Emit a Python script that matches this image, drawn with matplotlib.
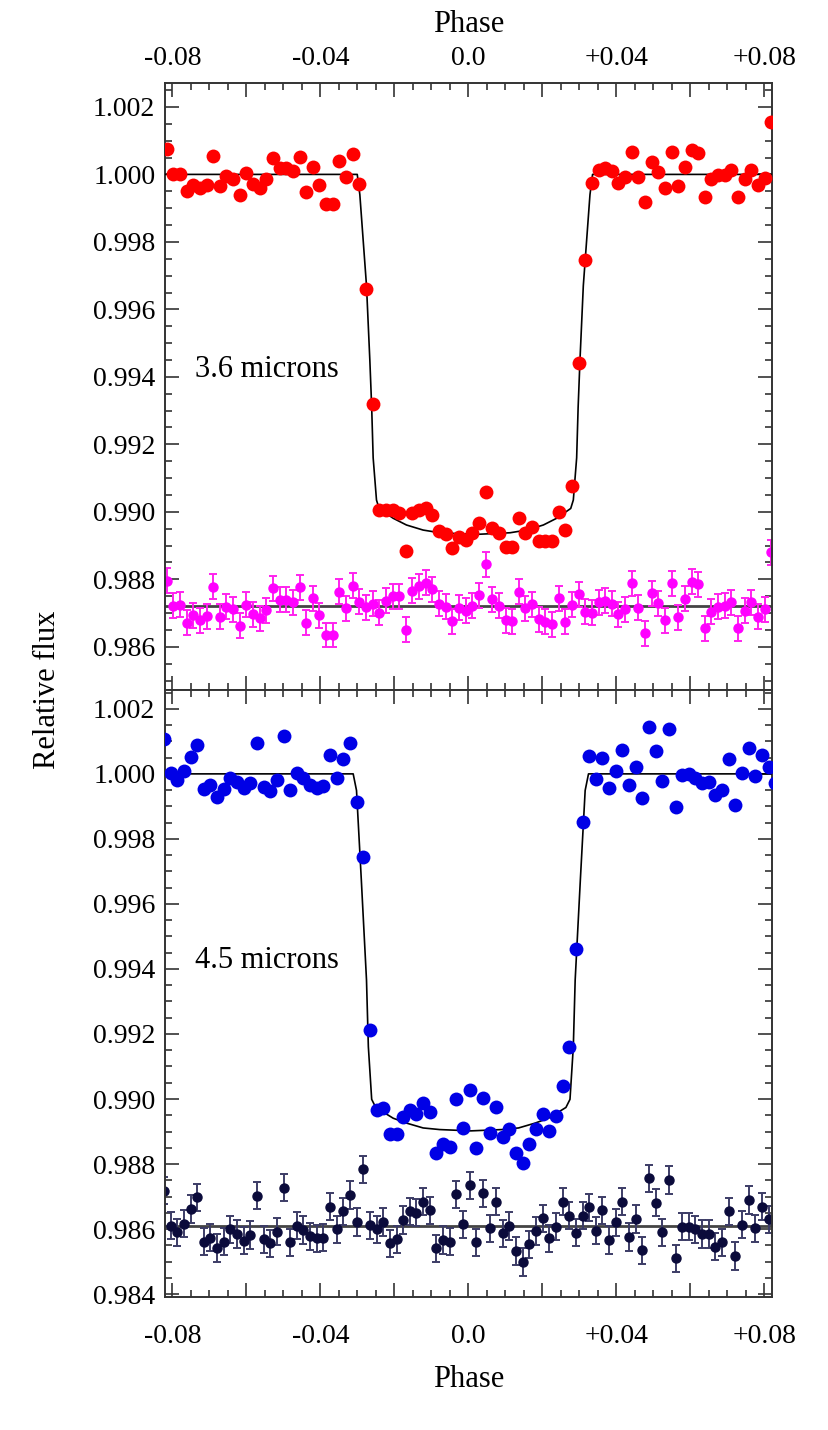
import numpy as np
import matplotlib
matplotlib.use('Agg')
import matplotlib.pyplot as plt
from matplotlib.ticker import MultipleLocator, FuncFormatter

plt.rcParams['font.family'] = ['Liberation Serif', 'DejaVu Serif']
plt.rcParams['font.size'] = 20

# --- 3.6 micron panel -------------------------------------------------
phase_start_36 = -0.08151
phase_step = 0.0017957

flux_36 = [1.00074, 1.0000, 1.0000, 0.99952, 0.99968, 0.99959, 0.99968, 1.00055, 0.99965, 0.99996,
           0.99986, 0.99939, 1.00003, 0.99973, 0.99960, 0.99986, 1.00050, 1.00018, 1.00018, 1.00011,
           1.00052, 0.99949, 1.00021, 0.99968, 0.99912, 0.99912, 1.00040, 0.99991, 1.00059, 0.99971,
           0.99661, 0.99319, 0.99005, 0.99004, 0.99005, 0.98996, 0.98885, 0.98997, 0.99005, 0.99010,
           0.98991, 0.98944, 0.98934, 0.98892, 0.98926, 0.98916, 0.98936, 0.98966, 0.99058, 0.98953,
           0.98936, 0.98895, 0.98895, 0.98983, 0.98936, 0.98956, 0.98914, 0.98914, 0.98914, 0.99000,
           0.98946, 0.99076, 0.99440, 0.99746, 0.99976, 1.00013, 1.00018, 1.00010, 0.99976, 0.99991,
           1.00067, 0.99993, 0.99919, 1.00037, 1.00008, 0.99959, 1.00067, 0.99965, 1.00021, 1.00072,
           1.00062, 0.99934, 0.99985, 0.99998, 0.99998, 1.00013, 0.99934, 0.99985, 1.00013, 0.99968,
           0.99988, 1.00156]

resid_36 = [0.98796, 0.98722, 0.98724, 0.98671, 0.98694, 0.98679, 0.98691, 0.98778, 0.98689, 0.98719,
            0.98711, 0.98662, 0.98724, 0.98697, 0.98684, 0.98709, 0.98773, 0.98739, 0.98739, 0.98732,
            0.98776, 0.98671, 0.98744, 0.98693, 0.98635, 0.98635, 0.98763, 0.98714, 0.98781, 0.98734,
            0.98717, 0.98727, 0.98701, 0.98737, 0.98750, 0.98750, 0.98650, 0.98766, 0.98780, 0.98790,
            0.98770, 0.98727, 0.98719, 0.98676, 0.98716, 0.98707, 0.98722, 0.98753, 0.98845, 0.98741,
            0.98722, 0.98679, 0.98676, 0.98763, 0.98714, 0.98726, 0.98682, 0.98674, 0.98667, 0.98744,
            0.98674, 0.98724, 0.98756, 0.98704, 0.98701, 0.98732, 0.98737, 0.98727, 0.98697, 0.98712,
            0.98788, 0.98716, 0.98640, 0.98759, 0.98729, 0.98679, 0.98788, 0.98687, 0.98743, 0.98793,
            0.98785, 0.98655, 0.98704, 0.98719, 0.98721, 0.98732, 0.98655, 0.98707, 0.98732, 0.98689,
            0.98711, 0.98880]
resid_err_36 = 0.00037
resid_level_36 = 0.98722

model_x_36 = [-0.0820, -0.0300, -0.0293, -0.0275, -0.0266, -0.0261, -0.0257, -0.0248, -0.0241,
              -0.0203, -0.0167, -0.0122, -0.0077, 0.0018, 0.0113, 0.0158, 0.0203, 0.0239,
              0.0277, 0.0284, 0.0293, 0.0297, 0.0302, 0.0311, 0.0329, 0.0336, 0.0820]
model_y_36 = [1.0000, 1.0000, 0.9994, 0.9967, 0.9945, 0.9931, 0.9916, 0.99035, 0.9901,
              0.98981, 0.98961, 0.98946, 0.98938, 0.98933, 0.98938, 0.98946, 0.98961, 0.98981,
              0.9901, 0.99035, 0.9916, 0.9931, 0.9945, 0.9967, 0.9994, 1.0000, 1.0000]

# --- 4.5 micron panel -------------------------------------------------
phase_start_45 = -0.08224

flux_45 = [1.00107, 1.00002, 0.99982, 1.00010, 1.00051, 1.00089, 0.99953, 0.99966, 0.99930, 0.99953,
           0.99987, 0.99976, 0.99956, 0.99971, 1.00094, 0.99959, 0.99946, 0.99982, 1.00117, 0.99951,
           1.00002, 0.99987, 0.99966, 0.99956, 0.99963, 1.00058, 0.99987, 1.00045, 1.00094, 0.99912,
           0.99744, 0.99212, 0.98966, 0.98971, 0.98892, 0.98892, 0.98946, 0.98966, 0.98954, 0.98987,
           0.98961, 0.98835, 0.98862, 0.98853, 0.99000, 0.98912, 0.99028, 0.98850, 0.99002, 0.98894,
           0.98976, 0.98884, 0.98908, 0.98835, 0.98804, 0.98862, 0.98907, 0.98954, 0.98903, 0.98949,
           0.99041, 0.99161, 0.99461, 0.99853, 1.00055, 0.99984, 1.00048, 0.99956, 1.00010, 1.00074,
           0.99966, 1.00021, 0.99925, 1.00144, 1.00069, 0.99979, 1.00138, 0.99899, 0.99997, 1.00000,
           0.99987, 0.99971, 0.99976, 0.99935, 0.99949, 1.00045, 0.99905, 1.00004, 1.00081, 0.99992,
           1.00058, 1.00021, 0.99971]

resid_45 = [0.98718, 0.98610, 0.98590, 0.98617, 0.98662, 0.98698, 0.98561, 0.98574, 0.98542, 0.98561,
            0.98599, 0.98585, 0.98564, 0.98582, 0.98703, 0.98568, 0.98556, 0.98592, 0.98727, 0.98559,
            0.98610, 0.98597, 0.98578, 0.98571, 0.98574, 0.98669, 0.98599, 0.98655, 0.98705, 0.98622,
            0.98784, 0.98612, 0.98599, 0.98622, 0.98556, 0.98568, 0.98628, 0.98655, 0.98650, 0.98684,
            0.98658, 0.98541, 0.98566, 0.98561, 0.98707, 0.98615, 0.98735, 0.98559, 0.98710, 0.98602,
            0.98684, 0.98587, 0.98609, 0.98533, 0.98499, 0.98553, 0.98594, 0.98633, 0.98571, 0.98607,
            0.98684, 0.98641, 0.98589, 0.98641, 0.98667, 0.98595, 0.98658, 0.98566, 0.98621, 0.98684,
            0.98576, 0.98631, 0.98535, 0.98756, 0.98681, 0.98590, 0.98751, 0.98510, 0.98607, 0.98607,
            0.98599, 0.98585, 0.98585, 0.98546, 0.98559, 0.98655, 0.98517, 0.98614, 0.98689, 0.98602,
            0.98669, 0.98630, 0.98620]
resid_err_45 = 0.00042
resid_level_45 = 0.98610

model_x_45 = [-0.0820, -0.0311, -0.0302, -0.0289, -0.0275, -0.0270, -0.0261, -0.0250, -0.0203,
              -0.0167, -0.0122, -0.0077, 0.0007, 0.0091, 0.0136, 0.0181, 0.0217, 0.0264,
              0.0275, 0.0284, 0.0289, 0.0303, 0.0316, 0.0325, 0.0820]
model_y_45 = [1.0000, 1.0000, 0.99949, 0.99674, 0.99366, 0.99161, 0.98999, 0.98974, 0.98941,
              0.98926, 0.98911, 0.98906, 0.98902, 0.98906, 0.98911, 0.98926, 0.98941, 0.98974,
              0.98999, 0.99161, 0.99366, 0.99674, 0.99949, 1.0000, 1.0000]

phase_36 = phase_start_36 + phase_step * np.arange(len(flux_36))
phase_45 = phase_start_45 + phase_step * np.arange(len(flux_45))

xticks_labelled = {-0.08: '-0.08', -0.04: '-0.04', 0.0: '0.0', 0.04: '+0.04', 0.08: '+0.08'}


def phase_fmt(v, pos):
    for k, s in xticks_labelled.items():
        if abs(v - k) < 1e-6:
            return s
    return ''


fig = plt.figure(figsize=(8.29, 14.30), dpi=100)
ax1 = fig.add_axes([0.1990, 0.51748, 0.7318, 0.42427])
ax2 = fig.add_axes([0.1990, 0.09322, 0.7318, 0.42427])

spine_col = '#333333'
label_size = 22

panels = [
    (ax1, phase_36, flux_36, resid_36, resid_err_36, resid_level_36, model_x_36, model_y_36,
     '#ff0000', '#ff00ff', '#ff22ee', (0.98472, 1.0027), '3.6 microns', 0.5164),
    (ax2, phase_45, flux_45, resid_45, resid_err_45, resid_level_45, model_x_45, model_y_45,
     '#0000e6', '#0b0b3b', '#3c3c66', (0.98392, 1.00258), '4.5 microns', 0.5413),
]

for (ax, ph, fl, rs, err, lev, mx, my, col, rcol, ecol, ylim, lab, ly) in panels:
    ax.axhline(lev, color='#444444', lw=2.0, zorder=1)
    ax.errorbar(ph, rs, yerr=err, fmt='o', ms=6.5, color=rcol, ecolor=ecol,
                elinewidth=1.4, capsize=3, capthick=1.4, zorder=2)
    ax.plot(mx, my, color='black', lw=1.2, zorder=3)
    ax.plot(ph, fl, 'o', ms=10, color=col, mec='none', zorder=4)
    ax.set_xlim(-0.08197, 0.0820)
    ax.set_ylim(*ylim)
    ax.text(0.0494, ly, lab, transform=ax.transAxes, fontsize=label_size, va='baseline')

    ax.xaxis.set_major_locator(MultipleLocator(0.02))
    ax.xaxis.set_minor_locator(MultipleLocator(0.005))
    ax.xaxis.set_major_formatter(FuncFormatter(phase_fmt))
    ax.yaxis.set_major_locator(MultipleLocator(0.002))
    ax.yaxis.set_minor_locator(MultipleLocator(0.0005))
    ax.yaxis.set_major_formatter(FuncFormatter(lambda v, p: '%.3f' % v))
    ax.tick_params(which='both', direction='in', top=True, right=True, color=spine_col,
                   width=1.2, labelsize=20)
    ax.tick_params(which='major', length=10)
    ax.tick_params(which='minor', length=5)
    ax.tick_params(axis='y', pad=7)
    for s in ax.spines.values():
        s.set_color(spine_col)
        s.set_linewidth(1.4)

ax1.tick_params(axis='x', labelbottom=False, labeltop=True, pad=9)
ax2.tick_params(axis='x', labelbottom=True, labeltop=False, pad=20)

fig.text(0.5649, 1 - 32 / 1430, 'Phase', ha='center', va='baseline', fontsize=label_size)
fig.text(0.5649, 1 - 1386.7 / 1430, 'Phase', ha='center', va='baseline', fontsize=label_size)
fig.text(48 / 829, 1 - 690 / 1430, 'Relative flux', rotation=90, ha='center', va='center',
         fontsize=label_size)

fig.savefig('out.png', dpi=100)
